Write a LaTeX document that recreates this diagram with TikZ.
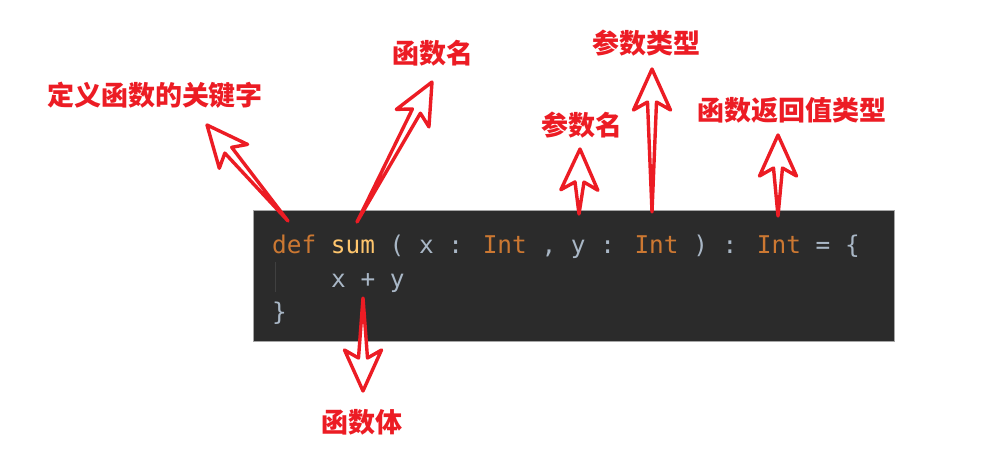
\documentclass[tikz,border=0pt]{standalone}
\usepackage{fontspec}
\newfontfamily\cjk{Noto Sans CJK SC}
\newfontfamily\codefont{DejaVu Sans Mono}
\usetikzlibrary{calc}

\definecolor{arrowred}{RGB}{236,28,36}
\definecolor{codebg}{RGB}{43,43,43}
\definecolor{kwcol}{RGB}{204,120,50}
\definecolor{fncol}{RGB}{255,198,109}
\definecolor{txtcol}{RGB}{169,183,198}

\tikzset{
  redlabel/.style={text=arrowred, font=\cjk\bfseries\fontsize{27}{27}\selectfont, inner sep=0pt},
  codeline/.style={text=txtcol, font=\codefont\fontsize{24.4}{24.4}\selectfont, inner sep=0pt, anchor=base west},
  outarrow/.style={draw=arrowred, fill=white, line width=3.4pt, line join=round},
}

% hollow arrow from tail #1 to tip #2
\newcommand{\hollowarrow}[2]{%
  \coordinate (hb) at ($(#2)!33pt!(#1)$);
  \coordinate (wb) at ($(#2)!41pt!(#1)$);
  \draw[outarrow] (#1) -- ($(hb)!4.5pt!90:(#2)$) -- ($(wb)!18.5pt!90:(#2)$) -- (#2)
    -- ($(wb)!18.5pt!-90:(#2)$) -- ($(hb)!4.5pt!-90:(#2)$) -- cycle;
}

\begin{document}
\begin{tikzpicture}[x=1pt,y=-1pt]
        \useasboundingbox (0,0) rectangle (991,459);
        % code box
        \draw[fill=codebg, draw=gray!70, line width=0.8pt] (253,210) rectangle (894,341);
        \draw[gray!25!codebg, line width=0.8pt] (275,262) -- (275,292);
        \node[codeline] (line1) at (272,253) {\textcolor{kwcol}{def} \textcolor{fncol}{sum} ( x : \textcolor{kwcol}{Int} , y : \textcolor{kwcol}{Int} ) : \textcolor{kwcol}{Int} = \{};
        \node[codeline] (line2) at (331,287) {x + y};
        \node[codeline] (line3) at (272,320) {\}};
        % labels
        \node[redlabel] (kwlabel) at (155,95) {定义函数的关键字};
        \node[redlabel] (namelabel) at (433,53) {函数名};
        \node[redlabel] (paramlabel) at (582,125) {参数名};
        \node[redlabel] (typelabel) at (646,43) {参数类型};
        \node[redlabel] (retlabel) at (792,110) {函数返回值类型};
        \node[redlabel] (bodylabel) at (362,422) {函数体};
        % arrow ends
        \coordinate (kwtail) at (288,221);
        \coordinate (kwtip) at (207,125);
        \coordinate (nametail) at (357,222);
        \coordinate (nametip) at (432,82);
        \coordinate (paramtail) at (579,214);
        \coordinate (paramtip) at (580,149);
        \coordinate (typetail) at (652,212);
        \coordinate (typetip) at (652,69);
        \coordinate (rettail) at (778,216);
        \coordinate (rettip) at (778,135);
        \coordinate (bodytail) at (363,298);
        \coordinate (bodytip) at (363,391);
        \hollowarrow{kwtail}{kwtip}
        \hollowarrow{nametail}{nametip}
        \hollowarrow{paramtail}{paramtip}
        \hollowarrow{typetail}{typetip}
        \hollowarrow{rettail}{rettip}
        \hollowarrow{bodytail}{bodytip}
    \end{tikzpicture}
\end{document}
